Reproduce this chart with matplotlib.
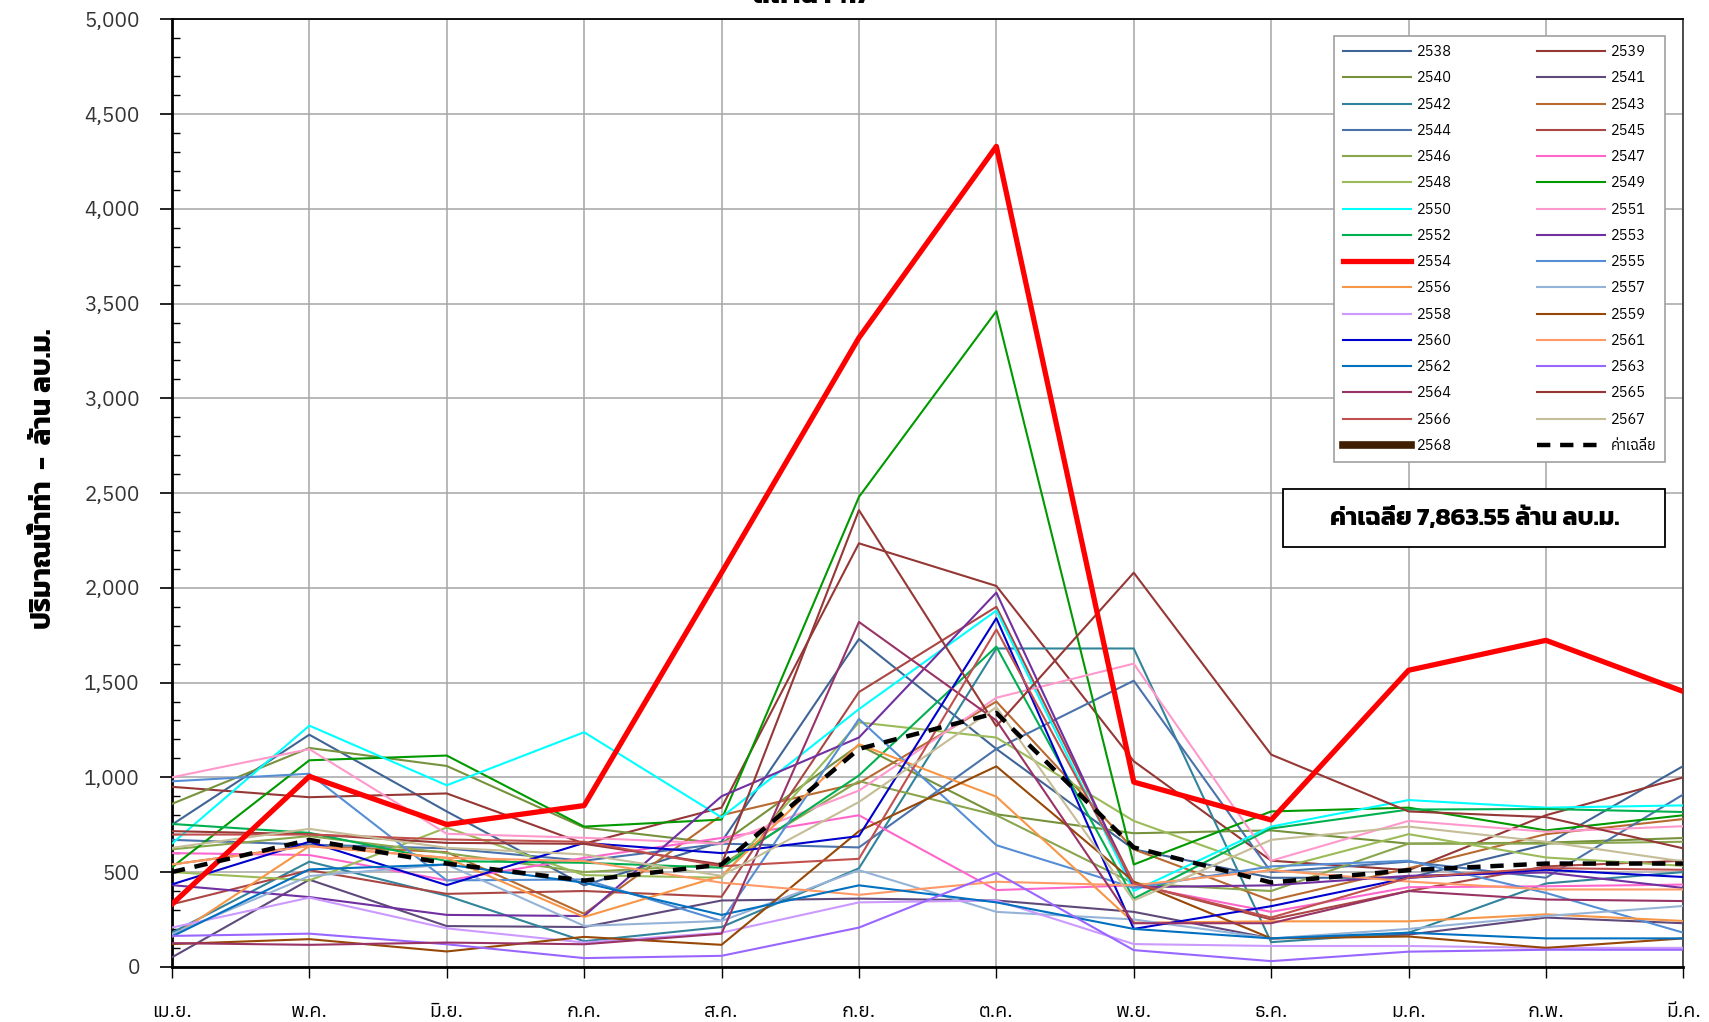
import numpy as np
import matplotlib
matplotlib.use("Agg")
import matplotlib.pyplot as plt
from matplotlib import font_manager, ft2font
from matplotlib.patches import Rectangle
from matplotlib.ticker import MultipleLocator, FuncFormatter

# fonts that can draw Thai; keep a separate list that prefers a bold face
thai_fonts = {}
for f in font_manager.fontManager.ttflist:
    try:
        if 0x0E01 in ft2font.FT2Font(f.fname).get_charmap():
            w = f.weight if isinstance(f.weight, int) else 400
            thai_fonts[f.name] = max(thai_fonts.get(f.name, 0), w)
    except Exception:
        pass
regular_fonts = sorted(thai_fonts) + ["DejaVu Sans"]
bold_fonts = sorted(thai_fonts, key=lambda n: -thai_fonts[n]) + ["DejaVu Sans"]
plt.rcParams["font.family"] = regular_fonts

months = ["เม.ย.", "พ.ค.", "มิ.ย.", "ก.ค.", "ส.ค.", "ก.ย.", "ต.ค.", "พ.ย.", "ธ.ค.", "ม.ค.", "ก.พ.", "มี.ค."]

y2538 = [750, 1225, 820, 430, 660, 1730, 1150, 620, 470, 470, 645, 1060]
y2539 = [950, 895, 915, 650, 840, 2235, 2010, 1085, 560, 510, 800, 1000]
y2540 = [860, 1155, 1060, 735, 650, 1170, 805, 705, 720, 650, 655, 680]
y2541 = [50, 460, 215, 210, 350, 360, 350, 290, 150, 170, 260, 230]
y2542 = [180, 555, 375, 135, 210, 520, 1680, 1680, 130, 180, 440, 500]
y2543 = [540, 640, 605, 280, 800, 970, 1400, 620, 350, 520, 700, 780]
y2544 = [670, 645, 625, 560, 650, 630, 1150, 1510, 500, 555, 470, 910]
y2545 = [330, 510, 385, 400, 370, 1450, 1900, 440, 250, 400, 530, 560]
y2546 = [620, 690, 600, 500, 540, 980, 800, 440, 400, 650, 650, 660]
y2547 = [600, 590, 456, 575, 680, 800, 405, 430, 290, 420, 425, 434]
y2548 = [500, 456, 735, 484, 470, 1290, 1210, 770, 510, 700, 577, 533]
y2549 = [525, 1090, 1115, 740, 777, 2480, 3460, 540, 820, 840, 720, 800]
y2550 = [650, 1273, 958, 1238, 789, 1360, 1880, 400, 740, 880, 840, 852]
y2551 = [1000, 1149, 702, 681, 650, 930, 1420, 1600, 560, 770, 713, 742]
y2552 = [754, 707, 558, 549, 523, 1010, 1690, 360, 730, 830, 833, 817]
y2553 = [431, 368, 274, 268, 900, 1210, 1975, 420, 430, 480, 498, 416]
y2554 = [330, 1005, 751, 851, 2080, 3320, 4330, 975, 775, 1565, 1723, 1453]
y2555 = [979, 1019, 456, 461, 242, 1308, 642, 417, 530, 560, 390, 180]
y2556 = [158, 637, 575, 263, 480, 1175, 898, 233, 240, 240, 277, 242]
y2557 = [172, 479, 540, 216, 242, 510, 290, 250, 150, 200, 268, 321]
y2558 = [207, 365, 203, 128, 180, 340, 350, 120, 110, 110, 100, 100]
y2559 = [120, 146, 81, 158, 116, 716, 1058, 450, 150, 160, 100, 150]
y2560 = [435, 660, 431, 654, 600, 690, 1840, 200, 320, 470, 512, 474]
y2561 = [540, 637, 575, 558, 444, 380, 449, 430, 510, 450, 408, 408]
y2562 = [160, 514, 540, 444, 274, 430, 340, 200, 150, 180, 150, 150]
y2563 = [163, 175, 119, 46, 58, 207, 496, 88, 30, 80, 90, 90]
y2564 = [125, 116, 128, 119, 175, 1820, 1300, 230, 230, 400, 355, 347]
y2565 = [716, 700, 654, 649, 540, 2410, 1270, 2080, 1120, 820, 790, 625]
y2566 = [698, 698, 672, 660, 531, 570, 1780, 440, 260, 470, 521, 512]
y2567 = [628, 728, 628, 593, 480, 870, 1370, 350, 670, 740, 660, 556]
y2568 = [np.nan] * 12
avg = [500, 670, 545, 455, 540, 1150, 1340, 630, 445, 510, 545, 545]

years = list(range(2538, 2569))
values = [y2538, y2539, y2540, y2541, y2542, y2543, y2544, y2545, y2546, y2547,
          y2548, y2549, y2550, y2551, y2552, y2553, y2554, y2555, y2556, y2557,
          y2558, y2559, y2560, y2561, y2562, y2563, y2564, y2565, y2566, y2567, y2568]
colors = ["#3F6496", "#953735", "#76923C", "#5F497A", "#31849B", "#B8692F", "#4A72AB",
          "#AA4643", "#89A54E", "#FF66CC", "#9BBB59", "#009900", "#00FFFF", "#FF99CC",
          "#00B050", "#7030A0", "#FF0000", "#558ED5", "#F79646", "#95B3D7", "#CC99FF",
          "#974806", "#0000CC", "#FF9966", "#0070C0", "#9966FF", "#993366", "#953735",
          "#C0504D", "#C4BD97", "#3F1F00"]

fig = plt.figure(figsize=(17.09, 10.22), dpi=100)
ax = fig.add_axes([0.1006, 0.054, 0.8844, 0.927])
x = np.arange(len(months))

handles = []
for yr, vals, c in zip(years, values, colors):
    lw = 1.5
    if yr == 2554:
        lw = 3.8
    elif yr == 2568:
        lw = 5.5
    h, = ax.plot(x, vals, color=c, lw=lw, label=str(yr), zorder=3 if yr != 2554 else 4)
    handles.append(h)
h_avg, = ax.plot(x, avg, color="black", lw=3.2, ls=(0, (3, 2.2)), label="ค่าเฉลี่ย", zorder=5)

ax.set_xlim(0, 11)
ax.set_ylim(0, 5000)
ax.set_xticks(x)
ax.set_xticklabels(months, fontsize=14)
ax.yaxis.set_major_locator(MultipleLocator(500))
ax.yaxis.set_minor_locator(MultipleLocator(100))
ax.yaxis.set_major_formatter(FuncFormatter(lambda v, p: f"{v:,.0f}"))
ax.tick_params(axis="y", which="major", labelsize=15, direction="out", length=9, width=1.2, pad=14, labelcolor="#333333")
ax.tick_params(axis="y", which="minor", direction="in", length=6, width=1)
ax.tick_params(axis="x", which="major", direction="out", length=8, width=1, pad=18)
ax.grid(True, which="major", color="#A6A6A6", lw=1.1, zorder=0)
for s in ax.spines.values():
    s.set_color("black")
    s.set_linewidth(1.3)
ax.spines["left"].set_linewidth(2)
ax.spines["bottom"].set_linewidth(2)
ax.spines["right"].set_color("#404040")

ax.set_ylabel("ปริมาณน้ำท่า  -  ล้าน ลบ.ม.", fontsize=20, fontweight="bold", family=bold_fonts)
ax.yaxis.set_label_coords(-0.076, 0.515)

fig.text(0.475, 0.991, "สถานี P.17", fontsize=20, fontweight="bold", family=bold_fonts,
         ha="center", va="bottom")

# legend: 2 columns, row-major like the reference
order = handles + [h_avg]
col1 = order[0::2]
col2 = order[1::2]
leg = ax.legend(col1 + col2, [h.get_label() for h in col1 + col2], ncol=2,
                loc="upper right", bbox_to_anchor=(0.9881, 0.982), borderaxespad=0,
                fontsize=10.5, frameon=True, fancybox=False, edgecolor="#A0A0A0",
                framealpha=1, handlelength=4.7, handletextpad=0.4, columnspacing=5.8,
                labelspacing=0.84, borderpad=0.6)
leg.get_frame().set_linewidth(1.2)

# average box
ax.add_patch(Rectangle((0.7353, 0.4430), 0.2528, 0.0612, transform=ax.transAxes,
                       fc="white", ec="black", lw=1.3, zorder=6))
ax.text(0.8617, 0.4736, "ค่าเฉลี่ย 7,863.55 ล้าน ลบ.ม.", transform=ax.transAxes,
        fontsize=18, fontweight="bold", family=bold_fonts, ha="center", va="center", zorder=7)

fig.savefig("out.png", dpi=100)
